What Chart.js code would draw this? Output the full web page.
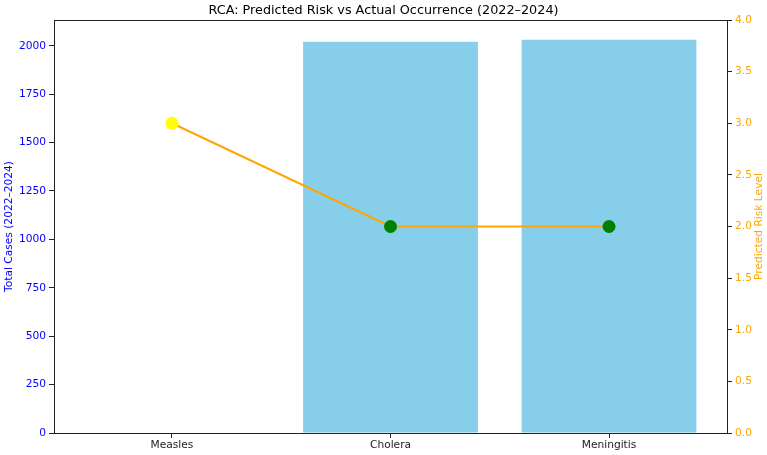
<!DOCTYPE html>
<html>
<head>
<meta charset="utf-8">
<script src="https://cdn.jsdelivr.net/npm/chart.js@4"></script>
<style>
html,body{margin:0;padding:0;background:#fff;}
#wrap{width:767px;height:455px;}
</style>
</head>
<body>
<div id="wrap"><canvas id="c" width="767" height="455"></canvas></div>
<script>
const categories = ['Measles', 'Cholera', 'Meningitis'];
const totalCases = [0, 2021, 2031];
const predictedRisk = [3, 2, 2];
const markerColors = ['#ffff00', '#008000', '#008000'];
const leftTicks = [0, 250, 500, 750, 1000, 1250, 1500, 1750, 2000];
const rightTicks = [0, 0.5, 1.0, 1.5, 2.0, 2.5, 3.0, 3.5, 4.0];
const chartTitle = 'RCA: Predicted Risk vs Actual Occurrence (2022\u20132024)';
const leftLabel = 'Total Cases (2022\u20132024)';
const rightLabel = 'Predicted Risk Level';

const FONT = '"DejaVu Sans", sans-serif';
const AX = '#222';

const framePlugin = {
  id: 'frame',
  afterDraw(chart) {
    const {ctx, chartArea: a} = chart;
    ctx.save();
    ctx.strokeStyle = AX;
    ctx.lineWidth = 1;
    ctx.strokeRect(Math.round(a.left) + 0.5, Math.round(a.top) + 0.5, Math.round(a.right - a.left), Math.round(a.bottom - a.top));
    const cy = (a.top + a.bottom) / 2;
    ctx.font = '10.65px ' + FONT;
    ctx.textAlign = 'center';
    ctx.textBaseline = 'middle';
    ctx.fillStyle = '#0000ff';
    ctx.translate(9, cy);
    ctx.rotate(-Math.PI / 2);
    ctx.fillText(leftLabel, 0, 0);
    ctx.restore();
    ctx.save();
    ctx.font = '10.65px ' + FONT;
    ctx.textAlign = 'center';
    ctx.textBaseline = 'middle';
    ctx.fillStyle = '#ffa500';
    ctx.translate(759, cy);
    ctx.rotate(-Math.PI / 2);
    ctx.fillText(rightLabel, 0, 0);
    ctx.restore();
  }
};

new Chart(document.getElementById('c'), {
  type: 'bar',
  data: {
    datasets: [
      {
        type: 'line',
        label: 'Predicted Risk',
        data: categories.map((c, i) => ({x: i, y: predictedRisk[i]})),
        yAxisID: 'y1',
        borderColor: '#ffa500',
        borderWidth: 2,
        pointRadius: 6.5,
        pointHoverRadius: 6.5,
        pointBackgroundColor: markerColors,
        pointBorderColor: markerColors,
        pointBorderWidth: 0,
        tension: 0,
        order: 0
      },
      {
        type: 'bar',
        label: 'Total Cases',
        data: categories.map((c, i) => ({x: i, y: totalCases[i]})),
        yAxisID: 'y',
        backgroundColor: '#87ceeb',
        borderWidth: 0,
        categoryPercentage: 1.0,
        barPercentage: 0.8,
        order: 1
      }
    ]
  },
  options: {
    responsive: false,
    animation: false,
    layout: {padding: 0},
    plugins: {
      legend: {display: false},
      tooltip: {enabled: false},
      title: {
        display: true,
        text: chartTitle,
        color: '#000',
        font: {family: FONT, size: 12.8, weight: 'normal'},
        padding: {top: 2.8, bottom: 1.84}
      }
    },
    scales: {
      x: {
        type: 'linear',
        offset: false,
        min: -0.54,
        max: 2.54,
        afterBuildTicks: s => { s.ticks = categories.map((c, i) => ({value: i})); },
        afterFit: s => { s.height = 22; },
        ticks: {
          callback: v => categories[v] !== undefined ? categories[v] : '',
          color: '#222',
          font: {family: FONT, size: 10.65},
          padding: 1,
          maxRotation: 0,
          autoSkip: false
        },
        grid: {offset: false, drawOnChartArea: false, drawTicks: true, tickLength: 5, color: AX},
        border: {display: true, color: AX}
      },
      y: {
        type: 'linear',
        position: 'left',
        min: 0,
        max: 2133,
        afterBuildTicks: s => { s.ticks = leftTicks.map(v => ({value: v})); },
        afterFit: s => { s.width = 54; },
        ticks: {
          color: '#0000ff',
          font: {family: FONT, size: 10.65},
          padding: 3,
          callback: v => String(v)
        },
        grid: {drawOnChartArea: false, drawTicks: true, tickLength: 5, color: AX},
        border: {display: true, color: AX}
      },
      y1: {
        type: 'linear',
        position: 'right',
        min: 0,
        max: 4,
        afterBuildTicks: s => { s.ticks = rightTicks.map(v => ({value: v})); },
        afterFit: s => { s.width = 40; },
        ticks: {
          color: '#ffa500',
          font: {family: FONT, size: 10.65},
          padding: 3,
          callback: v => v.toFixed(1)
        },
        grid: {drawOnChartArea: false, drawTicks: true, tickLength: 5, color: AX},
        border: {display: true, color: AX}
      }
    }
  },
  plugins: [framePlugin]
});
</script>
</body>
</html>
